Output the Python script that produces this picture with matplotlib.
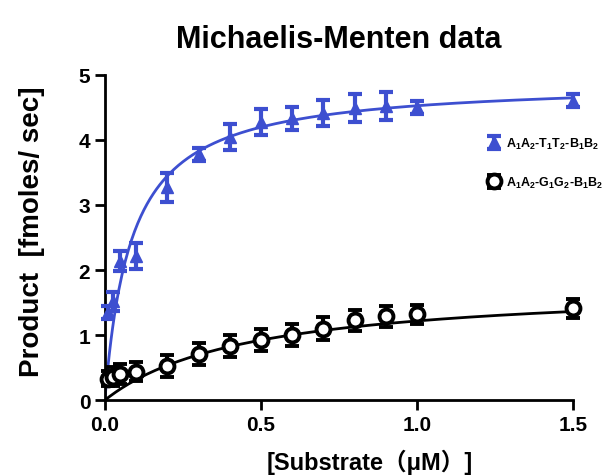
import numpy as np
import matplotlib.pyplot as plt

plt.rcParams['font.family'] = ['Liberation Sans', 'Noto Sans CJK SC', 'DejaVu Sans']
plt.rcParams['font.weight'] = 'bold'
plt.rcParams['mathtext.fontset'] = 'custom'
plt.rcParams['mathtext.rm'] = 'Liberation Sans:bold'
plt.rcParams['mathtext.it'] = 'Liberation Sans:bold'
plt.rcParams['mathtext.bf'] = 'Liberation Sans:bold'

# substrate concentrations (uM)
substrate = [0.01, 0.025, 0.05, 0.1, 0.2, 0.3, 0.4, 0.5, 0.6, 0.7, 0.8, 0.9, 1.0, 1.5]

# A1A2-T1T2-B1B2
tt_mean = [1.35, 1.52, 2.14, 2.22, 3.27, 3.78, 4.05, 4.27, 4.33, 4.42, 4.49, 4.52, 4.5, 4.6]
tt_err = [0.1, 0.15, 0.15, 0.2, 0.22, 0.1, 0.2, 0.2, 0.18, 0.2, 0.22, 0.22, 0.1, 0.1]
tt_vmax, tt_km = 4.91, 0.085

# A1A2-G1G2-B1B2
gg_mean = [0.33, 0.36, 0.4, 0.44, 0.53, 0.71, 0.83, 0.92, 1.0, 1.1, 1.23, 1.29, 1.32, 1.41]
gg_err = [0.12, 0.15, 0.15, 0.15, 0.17, 0.17, 0.17, 0.17, 0.17, 0.18, 0.16, 0.16, 0.15, 0.15]
gg_vmax, gg_km = 1.79, 0.47

blue = '#3d4fd0'


def mm(s, vmax, km):
    return vmax * s / (km + s)


fig = plt.figure(figsize=(6.06, 4.77), dpi=100)
ax = fig.add_axes([0.173, 0.159, 0.773, 0.682])

s = np.linspace(0, 1.5, 300)
ax.plot(s, mm(s, tt_vmax, tt_km), color=blue, lw=2, zorder=2)
ax.plot(s, mm(s, gg_vmax, gg_km), color='black', lw=2, zorder=2)

ax.errorbar(substrate, tt_mean, yerr=tt_err, fmt='^', color=blue, ms=9,
            elinewidth=3, capsize=5, capthick=3, clip_on=False, zorder=3,
            label='A$_1$A$_2$-T$_1$T$_2$-B$_1$B$_2$')
ax.errorbar(substrate, gg_mean, yerr=gg_err, fmt='o', color='black', mfc='white',
            mec='black', mew=2.8, ms=10, elinewidth=3, capsize=5, capthick=3,
            clip_on=False, zorder=3, label='A$_1$A$_2$-G$_1$G$_2$-B$_1$B$_2$')

ax.set_xlim(0, 1.5)
ax.set_ylim(0, 5)
ax.set_xticks([0, 0.5, 1.0, 1.5])
ax.set_xticklabels(['0.0', '0.5', '1.0', '1.5'])
ax.set_yticks([0, 1, 2, 3, 4, 5])
for side in ['top', 'right']:
    ax.spines[side].set_visible(False)
for side in ['left', 'bottom']:
    ax.spines[side].set_linewidth(2)
ax.tick_params(width=2, length=7, labelsize=15, direction='out')

ax.set_title('Michaelis-Menten data', fontsize=22, fontweight='bold', pad=20)
ax.set_xlabel('[Substrate（μM）]', fontsize=17, fontweight='bold')
ax.xaxis.set_label_coords(0.566, -0.15)
ax.set_ylabel('Product  [fmoles/ sec]', fontsize=20, fontweight='bold')
ax.yaxis.set_label_coords(-0.128, 0.52)

ax.legend(loc='upper left', bbox_to_anchor=(0.802, 0.828), frameon=False,
          fontsize=9, handlelength=1.3, handletextpad=0.35, labelspacing=1.9,
          borderaxespad=0)

fig.savefig('out.png', dpi=100)
